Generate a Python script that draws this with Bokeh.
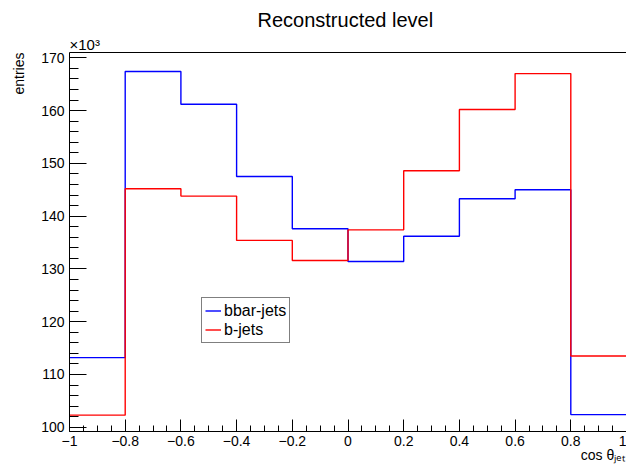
from bokeh.plotting import figure
from bokeh.models import (Range1d, SingleIntervalTicker, FixedTicker, CustomJSTickFormatter,
                          LinearAxis, Legend, LegendItem, Title)
from bokeh.embed import file_html
from bokeh.resources import INLINE

# bin edges of cos(theta_jet)
edges = [-1.0, -0.8, -0.6, -0.4, -0.2, 0.0, 0.2, 0.4, 0.6, 0.8, 1.0]
# entries per bin, in units of 10^3
bbar_jets = [113.2, 167.4, 161.2, 147.5, 137.6, 131.4, 136.2, 143.3, 145.0, 102.4]
b_jets = [102.3, 145.2, 143.8, 135.4, 131.6, 137.4, 148.6, 160.2, 167.0, 113.5]

FONT = "Liberation Sans"

p = figure(width=626, height=466, output_backend="svg", toolbar_location=None,
           x_range=Range1d(-1.0, 1.0), y_range=Range1d(99.2, 171.0),
           min_border_left=67, min_border_right=0, min_border_top=52,
           min_border_bottom=35, x_axis_location=None, y_axis_location=None)
p.outline_line_color = None
p.grid.visible = False
p.background_fill_color = "white"
p.border_fill_color = "white"

fmt = CustomJSTickFormatter(code="""
var s = Math.abs(tick - Math.round(tick)) < 1e-9 ? String(Math.round(tick)) : tick.toFixed(1);
if (s === "-0") s = "0";
return s.replace('-', '\\u2212');
""")

xaxis = LinearAxis(ticker=SingleIntervalTicker(interval=0.2, num_minor_ticks=4),
                   formatter=fmt)
xaxis.major_tick_in = 12
xaxis.major_tick_out = 0
xaxis.minor_tick_in = 6
xaxis.minor_tick_out = 0
xaxis.major_label_text_font = FONT
xaxis.major_label_text_font_size = "14px"
xaxis.major_label_text_color = "black"
xaxis.major_label_standoff = 4
xaxis.axis_line_color = "black"
xaxis.major_tick_line_color = "black"
xaxis.minor_tick_line_color = "black"
p.add_layout(xaxis, "below")

yaxis = LinearAxis(ticker=SingleIntervalTicker(interval=10, num_minor_ticks=5))
yaxis.major_tick_in = 17
yaxis.major_tick_out = 0
yaxis.minor_tick_in = 9
yaxis.minor_tick_out = 0
yaxis.major_label_text_font = FONT
yaxis.major_label_text_font_size = "14px"
yaxis.major_label_text_color = "black"
yaxis.major_label_standoff = 5
yaxis.axis_line_color = "black"
yaxis.major_tick_line_color = "black"
yaxis.minor_tick_line_color = "black"
p.add_layout(yaxis, "left")

# top frame line
top = LinearAxis(ticker=FixedTicker(ticks=[]))
top.major_tick_out = 0
top.minor_tick_out = 0
top.major_label_standoff = 0
top.axis_line_color = "black"
top.axis_line_width = 1
p.add_layout(top, "above")

x_title = "cos \u03b8\u2c7c\u2091\u209c"
y_title = "entries"

p.add_layout(Title(text=y_title, align="right", vertical_align="top", offset=0,
                   text_font=FONT, text_font_size="14px", text_font_style="normal",
                   text_color="black", standoff=20), "left")

xt = Title(text=x_title, align="right", vertical_align="top", offset=2,
           text_font=FONT, text_font_size="14px", text_font_style="normal",
           text_color="black")
try:
    xt.standoff = -4
except Exception:
    xt.standoff = 0
p.add_layout(xt, "below")

# multiplier above the y axis
p.add_layout(Title(text="\u00d710\u00b3", align="left", offset=0, text_font=FONT,
                   text_font_size="15px", text_font_style="normal", text_color="black",
                   standoff=0), "above")

p.title.text = "Reconstructed level"
p.title.align = "left"
p.title.offset = 188
p.title.text_font = FONT
p.title.text_font_size = "20px"
p.title.text_font_style = "normal"
p.title.text_color = "black"
p.title.standoff = 6

xs = edges
y_bbar = bbar_jets + [bbar_jets[-1]]
y_b = b_jets + [b_jets[-1]]
r_bbar = p.step(xs, y_bbar, mode="after", line_color="#0000ff", line_width=1.4)
r_b = p.step(xs, y_b, mode="after", line_color="#ff0000", line_width=1.4)

legend = Legend(items=[LegendItem(label="bbar-jets", renderers=[r_bbar]),
                       LegendItem(label="b-jets", renderers=[r_b])],
                location=(132, 88), orientation="vertical")
legend.border_line_color = "black"
legend.border_line_width = 1
legend.background_fill_alpha = 1
legend.label_text_font = FONT
legend.label_text_font_size = "16px"
legend.label_text_color = "black"
legend.glyph_width = 16
legend.glyph_height = 19
legend.label_height = 19
legend.label_standoff = 3
legend.spacing = 0
legend.padding = 3
legend.margin = 0
p.add_layout(legend, "center")

open("out.html", "w").write(file_html(p, INLINE))
